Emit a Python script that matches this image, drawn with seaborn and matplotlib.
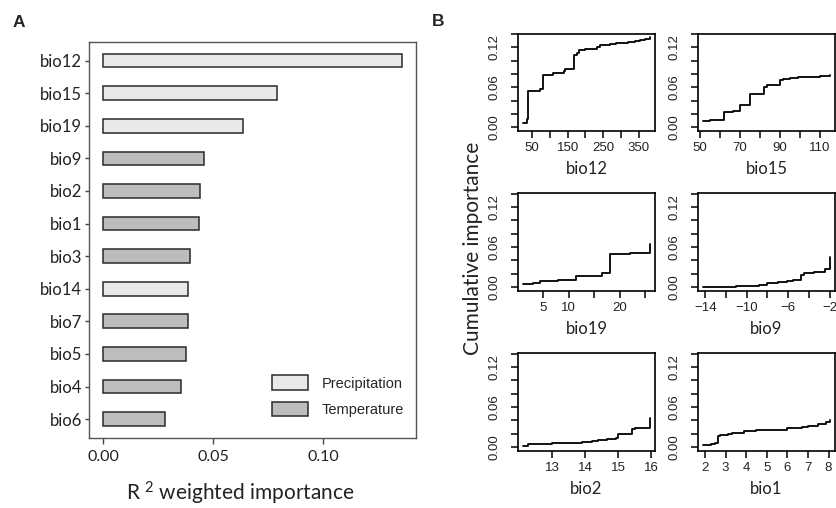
import matplotlib
matplotlib.use('Agg')
import matplotlib.pyplot as plt
import seaborn as sns
import pandas as pd

# --- Panel A: R2 weighted importance per variable ---
variables = ['bio12', 'bio15', 'bio19', 'bio9', 'bio2', 'bio1',
             'bio3', 'bio14', 'bio7', 'bio5', 'bio4', 'bio6']
importance = [0.1356, 0.0788, 0.0636, 0.0456, 0.0441, 0.0435,
              0.0393, 0.0385, 0.0384, 0.0377, 0.0352, 0.0279]
var_type = ['Precipitation', 'Precipitation', 'Precipitation', 'Temperature',
            'Temperature', 'Temperature', 'Temperature', 'Precipitation',
            'Temperature', 'Temperature', 'Temperature', 'Temperature']

# --- Panel B: cumulative importance curves (step functions) ---
bio12_x = [25, 34, 39, 72, 79, 100, 110, 140, 143, 168, 177, 181, 200, 226,
           232, 240, 255, 270, 285, 300, 320, 340, 355, 368, 381]
bio12_y = [0.007, 0.012, 0.054, 0.058, 0.078, 0.079, 0.081, 0.084, 0.087, 0.109,
           0.112, 0.116, 0.117, 0.118, 0.121, 0.123, 0.124, 0.125, 0.127, 0.127,
           0.128, 0.129, 0.131, 0.133, 0.136]

bio15_x = [51.7, 55, 61.9, 66.5, 70.2, 74.9, 82, 83.3, 90.1, 91.5, 95, 99, 105, 110, 114.7]
bio15_y = [0.010, 0.011, 0.023, 0.024, 0.033, 0.050, 0.061, 0.064, 0.071, 0.073,
           0.074, 0.075, 0.076, 0.077, 0.078]

bio19_x = [1.1, 3.0, 4.4, 8, 11.5, 16.6, 18.1, 19.0, 22, 25.9]
bio19_y = [0.005, 0.0065, 0.009, 0.010, 0.016, 0.021, 0.049, 0.050, 0.051, 0.064]

bio9_x = [-14.2, -12, -11, -9.8, -8.8, -8.0, -7.0, -6.1, -5.5, -4.8, -4.5, -3.5, -2.4, -2.0]
bio9_y = [0.000, 0.0007, 0.001, 0.002, 0.0035, 0.0065, 0.0075, 0.009, 0.010, 0.018,
          0.021, 0.022, 0.027, 0.045]

bio2_x = [12.12, 12.27, 12.6, 13.0, 13.5, 13.9, 14.2, 14.4, 14.65, 14.94, 15.0, 15.42, 15.5, 15.95]
bio2_y = [0.001, 0.004, 0.005, 0.0055, 0.0065, 0.0075, 0.009, 0.010, 0.012, 0.014,
          0.020, 0.027, 0.029, 0.044]

bio1_x = [1.92, 2.3, 2.5, 2.62, 2.75, 3.1, 3.3, 3.9, 4.5, 5.2, 6.0, 6.7, 7.0, 7.5, 7.9, 8.05]
bio1_y = [0.0025, 0.004, 0.006, 0.016, 0.018, 0.019, 0.021, 0.024, 0.025, 0.026,
          0.028, 0.030, 0.032, 0.034, 0.037, 0.041]

sns.set_theme(style='white')
plt.rcParams['font.family'] = ['Lato', 'DejaVu Sans']
plt.rcParams['axes.unicode_minus'] = True
plt.rcParams['mathtext.fontset'] = 'custom'
plt.rcParams['mathtext.rm'] = 'Lato'
plt.rcParams['mathtext.default'] = 'regular'

fig = plt.figure(figsize=(8.36, 5.08), dpi=100)

# ---------------- Panel A ----------------
axA = fig.add_axes([0.1065, 0.1378, 0.3908, 0.7801])
dfA = pd.DataFrame({'variable': variables, 'importance': importance, 'type': var_type})
sns.barplot(data=dfA, x='importance', y='variable', hue='type',
            hue_order=['Precipitation', 'Temperature'],
            palette={'Precipitation': '#e9e9e9', 'Temperature': '#bdbdbd'},
            orient='h', dodge=False, width=0.42, edgecolor='#2a2a2a',
            linewidth=1.1, ax=axA)
axA.set_xlim(-0.0065, 0.142)
axA.set_ylim(11.58, -0.58)
axA.set_xticks([0.0, 0.05, 0.10])
axA.set_xticklabels(['0.00', '0.05', '0.10'], fontsize=11.5)
axA.tick_params(axis='y', labelsize=12, length=3, width=1, color='#444444',
                direction='out', left=True, pad=2, labelcolor='#222222')
axA.tick_params(axis='x', length=4, width=1, color='#444444', direction='out',
                bottom=True, pad=5, labelcolor='#222222')
for sp in axA.spines.values():
    sp.set_color('#555555')
    sp.set_linewidth(1.0)
axA.set_ylabel('')
axA.set_xlabel(r'R $^{2}$ weighted importance', fontsize=15, color='#222222')
axA.xaxis.set_label_coords(0.464, -0.105)

handles, labels = axA.get_legend_handles_labels()
axA.legend(handles, labels, loc='upper left', bbox_to_anchor=(0.560, 0.158),
           frameon=False, borderpad=0, borderaxespad=0,
           handlelength=2.47, handleheight=1.16, handletextpad=0.96,
           labelspacing=0.75, prop={'family': 'Liberation Sans', 'size': 10.5})

fig.text(19 / 836, 1 - 22.5 / 508, 'A', fontsize=12.5, fontweight='bold',
         family='Liberation Sans', ha='center', va='center')

# ---------------- Panel B ----------------
panels = [
    ('bio12', bio12_x, bio12_y, [50, 100, 150, 200, 250, 300, 350], [50, 150, 250, 350]),
    ('bio15', bio15_x, bio15_y, [50, 60, 70, 80, 90, 100, 110], [50, 70, 90, 110]),
    ('bio19', bio19_x, bio19_y, [5, 10, 15, 20, 25], [5, 10, 20]),
    ('bio9', bio9_x, bio9_y, [-14, -12, -10, -8, -6, -4, -2], [-14, -10, -6, -2]),
    ('bio2', bio2_x, bio2_y, [13, 14, 15, 16], [13, 14, 15, 16]),
    ('bio1', bio1_x, bio1_y, [2, 3, 4, 5, 6, 7, 8], [2, 3, 4, 5, 6, 7, 8]),
]
col_left = [0.620, 0.8353]
row_bottom = [0.7421, 0.4278, 0.1128]
w, h = 0.163, 0.1915
y_ticks = [0.0, 0.02, 0.04, 0.06, 0.08, 0.10, 0.12, 0.14]

for i, (name, xs, ys, ticks, labelled) in enumerate(panels):
    r, c = divmod(i, 2)
    ax = fig.add_axes([col_left[c], row_bottom[r], w, h])
    sns.lineplot(x=xs, y=ys, drawstyle='steps-post', color='black', lw=1.3,
                 estimator=None, ax=ax)
    span = max(xs) - min(xs)
    ax.set_xlim(min(xs) - 0.04 * span, max(xs) + 0.04 * span)
    ax.set_ylim(-0.0055, 0.1405)
    ax.set_xticks(ticks)
    ax.set_xticklabels([(str(t).replace('-', '\u2212') if t in labelled else '') for t in ticks],
                       family='Liberation Sans', fontsize=9.5)
    ax.set_yticks(y_ticks)
    ax.set_yticklabels([('%.2f' % t if round(t, 2) in (0.0, 0.06, 0.12) else '') for t in y_ticks],
                       family='Liberation Sans', fontsize=9.5, rotation=90, va='center')
    ax.tick_params(axis='both', direction='out', length=5, width=1.1, color='black',
                   bottom=True, left=True, labelcolor='#222222')
    ax.tick_params(axis='x', pad=3)
    ax.tick_params(axis='y', pad=8)
    for sp in ax.spines.values():
        sp.set_color('black')
        sp.set_linewidth(1.2)
    ax.set_xlabel(name, fontsize=12, labelpad=5, color='#222222')
    ax.set_ylabel('')

fig.text(438 / 836, 1 - 21 / 508, 'B', fontsize=12.5, fontweight='bold',
         family='Liberation Sans', ha='center', va='center')
fig.text(473 / 836, 1 - 248 / 508, 'Cumulative importance', fontsize=15,
         rotation=90, ha='center', va='center', color='#222222')

fig.savefig('out.png', dpi=100)
